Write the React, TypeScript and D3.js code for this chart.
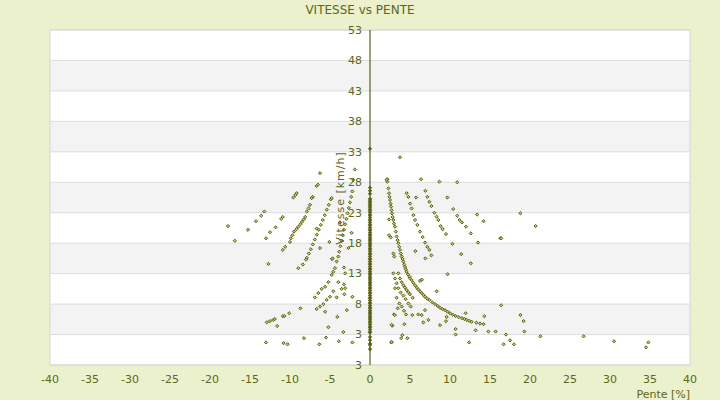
import React from "react";
import * as d3 from "d3";

// ticks (the bottom tick is labelled "3" in the original)
const yTickValues = [53, 48, 43, 38, 33, 28, 23, 18, 13, 8, 3, -2];
const yTickLabels = ["53", "48", "43", "38", "33", "28", "23", "18", "13", "8", "3", "3"];
const xTickValues = [-40, -35, -30, -25, -20, -15, -10, -5, 0, 5, 10, 15, 20, 25, 30, 35, 40];

// vitesse values sitting on pente = 0
const zeroPenteVitesse = [
  33.5, 27.1, 26.6, 26.1, 25.3, 25.1, 24.8, 24.6, 24.3, 24.1, 23.8, 23.5, 23.3, 23.0, 22.7, 22.5,
  22.2, 21.9, 21.7, 21.4, 21.1, 20.9, 20.6, 20.3, 20.1, 19.8, 19.5, 19.3, 19.0, 18.7, 18.5, 18.2,
  17.9, 17.7, 17.4, 17.1, 16.9, 16.6, 16.3, 16.1, 15.8, 15.5, 15.3, 15.0, 14.7, 14.5, 14.2, 13.9,
  13.7, 13.4, 13.1, 12.9, 12.6, 12.3, 12.1, 11.8, 11.5, 11.3, 11.0, 10.7, 10.5, 10.2, 9.9, 9.7,
  9.4, 9.1, 8.9, 8.6, 8.3, 8.1, 7.8, 7.5, 7.3, 7.0, 6.7, 6.5, 6.2, 5.9, 5.7, 5.4, 5.1, 4.9, 4.6,
  4.3, 4.1, 3.8, 3.5, 3.3, 2.6, 2.1, 1.5, 1.3, 0.6,
];

// [pente %, vitesse km/h] – descente
const descentePoints = [
  [-17.75, 20.8], [-16.9, 18.4], [-15.25, 20.2], [-14.25, 21.6], [-13.6, 22.5], [-13.2, 23.2],
  [-13.0, 18.8], [-12.5, 19.8], [-11.8, 20.6], [-11.1, 22.0], [-10.9, 22.3], [-10.6, 17.4],
  [-10.9, 16.9], [-12.7, 14.6],
  [-12.9, 5.0], [-12.5, 5.2], [-12.1, 5.4], [-11.9, 5.55], [-11.6, 4.4], [-10.9, 6.0], [-10.7, 6.05],
  [-10.1, 6.5], [-13.0, 1.7], [-10.8, 1.6], [-10.3, 1.4], [-8.7, 7.3], [-8.25, 2.4], [-6.33, 1.4],
  [-5.5, 2.5], [-5.2, 4.2],
  [-6.25, 29.5], [-6.67, 27.4], [-6.5, 27.6], [-9.17, 26.2], [-9.33, 25.9], [-9.58, 25.5],
  [-7.17, 25.6], [-7.29, 25.4], [-7.5, 24.3], [-7.67, 23.7], [-7.9, 23.2],
  [-8.1, 22.3], [-8.3, 21.9], [-8.5, 21.5], [-8.7, 21.1], [-8.96, 20.7], [-9.2, 20.3], [-9.5, 19.9],
  [-9.7, 19.3], [-9.9, 18.8], [-10.0, 18.2],
  [-4.9, 25.2], [-5.15, 24.3], [-5.4, 23.5], [-5.65, 22.6], [-5.9, 21.8], [-6.15, 21.0], [-6.4, 20.2],
  [-6.65, 19.4], [-6.9, 18.6], [-7.15, 17.8], [-7.4, 17.0], [-7.65, 16.3], [-7.9, 15.6], [-8.0, 15.3],
  [-8.4, 14.5], [-8.96, 13.9],
  [-2.2, 26.5], [-2.35, 25.6], [-2.5, 24.7], [-2.65, 23.8], [-2.8, 22.9], [-2.95, 22.0], [-3.1, 21.1],
  [-3.25, 20.2], [-3.4, 19.3], [-3.55, 18.4], [-3.7, 17.5], [-3.85, 16.6], [-3.96, 15.8],
  [-4.17, 15.0], [-4.38, 13.9], [-4.6, 13.3], [-4.79, 12.8], [-5.2, 11.6], [-5.6, 10.85], [-6.04, 10.5],
  [-6.46, 9.8], [-6.9, 9.1],
  [-4.75, 15.4], [-4.67, 15.5], [-5.42, 8.7], [-5.83, 8.0], [-6.25, 7.6], [-6.67, 7.2], [-5.6, 6.75],
  [-3.25, 14.0], [-3.1, 13.05], [-3.96, 11.6], [-3.25, 11.25], [-3.54, 10.5], [-3.1, 10.6],
  [-4.58, 10.1], [-3.2, 9.6], [-5.0, 9.2], [-4.17, 9.1], [-2.2, 9.2], [-2.9, 7.0], [-4.08, 5.9],
  [-3.33, 3.4], [-3.9, 1.9], [-2.2, 1.7],
  [-6.67, 20.4], [-6.25, 17.2], [-5.08, 18.2], [-3.75, 21.4], [-2.3, 19.7], [-1.9, 30.1],
  [-2.7, 17.2], [-2.1, 28.4], [-4.79, 25.4],
];

// [pente %, vitesse km/h] – montée
const monteePoints = [
  [3.75, 32.1], [2.17, 28.5], [2.17, 28.1], [2.3, 27.0], [2.08, 28.4],
  [2.38, 26.2], [2.44, 25.6], [2.5, 25.1], [2.57, 24.5], [2.63, 24.0], [2.7, 23.4], [2.75, 22.9],
  [2.83, 22.3], [2.92, 21.8], [3.0, 21.2], [3.13, 20.7], [3.23, 19.9], [3.33, 19.1], [3.44, 18.5],
  [3.54, 18.0], [3.65, 17.4], [3.75, 16.9], [3.85, 16.3], [3.96, 15.8], [4.07, 15.4], [4.17, 15.0],
  [4.28, 14.5], [4.38, 14.1], [4.48, 13.7], [4.58, 13.3], [4.75, 12.9], [4.92, 12.5], [5.05, 12.2],
  [5.2, 11.95], [5.4, 11.5], [5.63, 11.1], [5.85, 10.7], [6.04, 10.4], [6.25, 10.1], [6.46, 9.8],
  [6.67, 9.5], [6.88, 9.2], [7.15, 8.9], [7.42, 8.7], [7.78, 8.3], [8.13, 8.0], [8.45, 7.7],
  [8.75, 7.4], [9.05, 7.2], [9.38, 7.0], [9.7, 6.75], [10.0, 6.5], [10.35, 6.25], [10.7, 6.05],
  [11.1, 5.85], [11.5, 5.7], [11.8, 5.55], [12.1, 5.4], [12.4, 5.25], [12.7, 5.1], [13.3, 4.95],
  [13.75, 4.8], [14.2, 4.7],
  [2.38, 21.9], [2.38, 19.3], [2.58, 18.95], [2.92, 16.3], [3.04, 15.8],
  [2.92, 13.05], [3.13, 12.2], [3.33, 11.4], [3.54, 10.6], [3.83, 9.9], [4.17, 9.4], [4.46, 8.8],
  [4.79, 8.1], [5.08, 7.6],
  [3.54, 13.05], [3.75, 12.2], [3.96, 11.6], [4.17, 11.1], [4.38, 10.7], [4.58, 10.3], [4.8, 9.95],
  [5.0, 9.6], [5.33, 9.05],
  [3.13, 10.6], [3.33, 9.05], [3.67, 8.1], [3.96, 7.6], [4.25, 6.9], [4.5, 6.3], [3.46, 7.3],
  [3.0, 6.3], [2.79, 4.45], [4.29, 4.7], [5.29, 6.2], [6.04, 6.3], [6.46, 6.2], [6.67, 5.0],
  [7.29, 5.4], [6.88, 7.0], [6.25, 11.8], [6.5, 12.0], [8.33, 10.1], [9.7, 12.9], [12.6, 14.7],
  [8.75, 4.55], [9.5, 5.2], [9.58, 5.9], [10.7, 3.9], [10.7, 3.0], [11.96, 6.5], [12.4, 1.7],
  [13.2, 3.7], [14.3, 6.0], [14.8, 3.5], [15.7, 3.5], [16.4, 7.8], [17.0, 3.0], [16.7, 1.4],
  [17.5, 2.05], [18.0, 1.4], [2.67, 1.7], [4.04, 2.9], [3.9, 2.4], [4.67, 2.4], [2.7, 4.6],
  [2.7, 1.8], [3.1, 6.2],
  [4.58, 26.2], [4.79, 25.6], [5.0, 24.5], [5.2, 23.7], [5.42, 22.6], [5.63, 21.8], [5.92, 21.0],
  [6.25, 19.9], [6.58, 19.0], [6.88, 18.1], [7.17, 17.4], [7.42, 16.9],
  [7.17, 25.6], [7.42, 24.8], [7.67, 24.1], [8.04, 23.0], [8.33, 22.35], [8.54, 21.8], [8.83, 20.8],
  [9.08, 20.3], [9.5, 19.5],
  [10.9, 22.5], [11.2, 21.8], [11.5, 21.4], [12.0, 20.7], [12.6, 19.6],
  [5.75, 25.5], [6.38, 28.5], [6.92, 26.6], [8.67, 28.1], [9.67, 25.5], [10.4, 23.6], [10.9, 28.0],
  [13.4, 22.7], [14.2, 21.6], [13.5, 18.1], [10.3, 17.9], [16.3, 18.8], [16.4, 18.8], [11.4, 16.2],
  [5.67, 16.7], [6.92, 15.5], [7.67, 16.0], [18.8, 22.9], [20.7, 20.8], [18.8, 6.2], [19.2, 5.2],
  [19.3, 3.5], [21.3, 2.7], [26.7, 2.7], [30.5, 1.9], [34.8, 1.7], [34.5, 0.9],
];

const W = 720;
const H = 400;
const plot = { left: 50, right: 690, top: 30, bottom: 365 };
const textColor = "#5f6618";
const markColor = "#5b6112";

const App = () => {
  const x = d3.scaleLinear().domain([-40, 40]).range([plot.left, plot.right]);
  const y = d3.scaleLinear().domain([-2, 53]).range([plot.bottom, plot.top]);

  const bands = d3.pairs(yTickValues); // [53,48],[48,43],...
  const diamond = "M0,-1.6L1.6,0L0,1.6L-1.6,0Z";

  const marker = (p, v, key, solid) => (
    <path
      key={key}
      d={diamond}
      transform={`translate(${x(p)},${y(v)})`}
      fill={solid ? markColor : "#c4c878"}
      stroke={markColor}
      strokeWidth={1}
    />
  );

  return (
    <svg
      width={W}
      height={H}
      style={{ position: "absolute", left: 0, top: 0, fontFamily: "DejaVu Sans, sans-serif" }}
    >
      <rect width={W} height={H} fill="#ebf0cd" />
      <rect
        x={plot.left}
        y={plot.top}
        width={plot.right - plot.left}
        height={plot.bottom - plot.top}
        fill="#ffffff"
      />
      {bands.map(([a, b], i) =>
        i % 2 === 1 ? (
          <rect key={i} x={plot.left} y={y(a)} width={plot.right - plot.left} height={y(b) - y(a)} fill="#f3f3f3" />
        ) : null
      )}
      {yTickValues.map((t) => (
        <line key={t} x1={plot.left} x2={plot.right} y1={y(t)} y2={y(t)} stroke="#dddddd" strokeWidth={1} />
      ))}
      <rect
        x={plot.left}
        y={plot.top}
        width={plot.right - plot.left}
        height={plot.bottom - plot.top}
        fill="none"
        stroke="#d6d6d6"
        strokeWidth={1}
      />

      {/* vertical axis at pente = 0 */}
      <line x1={x(0)} x2={x(0)} y1={plot.top} y2={plot.bottom} stroke={markColor} strokeWidth={1.2} />

      {zeroPenteVitesse.map((v, i) => marker(0, v, `z${i}`, true))}
      {descentePoints.map(([p, v], i) => marker(p, v, `d${i}`, false))}
      {monteePoints.map(([p, v], i) => marker(p, v, `m${i}`, false))}

      {yTickValues.map((t, i) => (
        <text key={t} x={x(0) - 8} y={y(t)} dy="0.35em" textAnchor="end" fontSize={11} fill={textColor}>
          {yTickLabels[i]}
        </text>
      ))}
      {xTickValues.map((t) => (
        <text key={t} x={x(t)} y={383} textAnchor="middle" fontSize={11} fill={textColor}>
          {t}
        </text>
      ))}

      <text x={360} y={14} textAnchor="middle" fontSize={12} fill={textColor}>
        VITESSE vs PENTE
      </text>
      <text x={690} y={398} textAnchor="end" fontSize={11} fill={textColor}>
        Pente [%]
      </text>
      <text
        transform={`translate(344,198) rotate(-90)`}
        textAnchor="middle"
        fontSize={11}
        fill={textColor}
        letterSpacing={1}
      >
        Vitesse [km/h]
      </text>
    </svg>
  );
};

export default App;
